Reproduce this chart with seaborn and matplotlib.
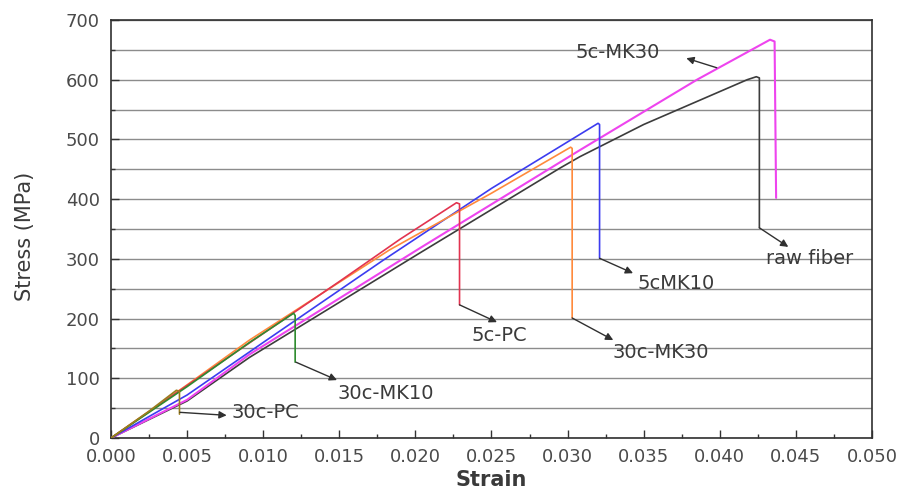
import pandas as pd
import seaborn as sns
import matplotlib.pyplot as plt
from matplotlib.ticker import MultipleLocator

# stress-strain curves (strain, MPa)
names = ['raw fiber', '5c-MK30', '5cMK10', '30c-MK30', '5c-PC', '30c-MK10', '30c-PC']

strain_raw = [0, 0.005, 0.0091, 0.0203, 0.0295, 0.0308, 0.035, 0.0418, 0.0424, 0.0426, 0.0426]
stress_raw = [0, 62, 135, 310, 452, 471, 525, 600, 605, 603, 352]

strain_5cmk30 = [0, 0.005, 0.0091, 0.0203, 0.0308, 0.0385, 0.0433, 0.0436, 0.0437]
stress_5cmk30 = [0, 64, 140, 318, 482, 600, 667, 664, 402]

strain_5cmk10 = [0, 0.005, 0.010, 0.0179, 0.025, 0.032, 0.0321, 0.0321]
stress_5cmk10 = [0, 72, 160, 298, 418, 527, 525, 301]

strain_30cmk30 = [0, 0.005, 0.0091, 0.0183, 0.025, 0.0302, 0.0303, 0.0303]
stress_30cmk30 = [0, 89, 164, 315, 410, 487, 485, 201]

strain_5cpc = [0, 0.005, 0.010, 0.015, 0.019, 0.0227, 0.0229, 0.0229]
stress_5cpc = [0, 88, 175, 262, 333, 394, 392, 223]

strain_30cmk10 = [0, 0.005, 0.0091, 0.012, 0.0121, 0.0121]
stress_30cmk10 = [0, 86, 160, 209, 205, 127]

strain_30cpc = [0, 0.0025, 0.0043, 0.0045, 0.0045]
stress_30cpc = [0, 45, 80, 78, 40]

colors = {'raw fiber': '#3c3c3c', '5c-MK30': '#ee44ee', '5cMK10': '#3c3cf0',
          '30c-MK30': '#ff8a3c', '5c-PC': '#e23450', '30c-MK10': '#2e8b2e',
          '30c-PC': '#9a7d1e'}

curves = [(strain_raw, stress_raw), (strain_5cmk30, stress_5cmk30),
          (strain_5cmk10, stress_5cmk10), (strain_30cmk30, stress_30cmk30),
          (strain_5cpc, stress_5cpc), (strain_30cmk10, stress_30cmk10),
          (strain_30cpc, stress_30cpc)]

rows = []
for name, (xs, ys) in zip(names, curves):
    for x, y in zip(xs, ys):
        rows.append({'sample': name, 'Strain': x, 'Stress': y})
df = pd.DataFrame(rows)

# label text position, arrow tail (end of the drop) and arrow head
labels = {
    '30c-PC':   ((0.0079, 42), (0.00453, 43), (0.0076, 38), 'left'),
    '30c-MK10': ((0.0149, 75), (0.01215, 127), (0.01485, 97), 'left'),
    '5c-PC':    ((0.0255, 171), (0.0229, 223), (0.02536, 194), 'center'),
    '30c-MK30': ((0.0361, 144), (0.0303, 201), (0.0330, 164), 'center'),
    '5cMK10':   ((0.0371, 258), (0.0321, 301), (0.0343, 276), 'center'),
    'raw fiber': ((0.0459, 301), (0.0426, 352), (0.0445, 320), 'center'),
    '5c-MK30':  ((0.0333, 645), (0.0398, 620), (0.0378, 636), 'center'),
}

sns.set_style('ticks')
plt.rcParams['font.family'] = ['DejaVu Sans']

fig = plt.figure(figsize=(9.09, 4.96), dpi=100)
ax = fig.add_axes([0.1221, 0.1169, 0.8372, 0.8428])

lws = {n: 1.2 for n in names}
lws['5c-MK30'] = 1.5
for name in names:
    sub = df[df['sample'] == name]
    sns.lineplot(data=sub, x='Strain', y='Stress', color=colors[name],
                 sort=False, estimator=None, lw=lws[name], ax=ax, zorder=3)

for text, (tpos, tail, head, ha) in labels.items():
    ax.annotate('', xy=head, xytext=tail,
                arrowprops=dict(arrowstyle='-|>', color='#303030', lw=1.0,
                                mutation_scale=11, shrinkA=0, shrinkB=0),
                zorder=4)
    ax.text(tpos[0], tpos[1], text, ha=ha, va='center', fontsize=14,
            color='#3a3a3a', zorder=5)

ax.set_xlim(0, 0.05)
ax.set_ylim(0, 700)
ax.xaxis.set_major_locator(MultipleLocator(0.005))
ax.xaxis.set_minor_locator(MultipleLocator(0.0025))
ax.yaxis.set_major_locator(MultipleLocator(100))
ax.yaxis.set_minor_locator(MultipleLocator(50))
ax.xaxis.set_major_formatter(plt.FormatStrFormatter('%.3f'))

ax.yaxis.grid(True, which='both', color='#8c8c8c', lw=1.0)
ax.set_axisbelow(True)

ax.tick_params(which='both', direction='in', top=False, right=False,
               colors='#333333', labelcolor='#4a4a4a', labelsize=13)
ax.tick_params(which='major', length=6, width=1)
ax.tick_params(which='minor', length=3, width=1)
ax.tick_params(axis='x', pad=7)
ax.tick_params(axis='y', pad=8)
for s in ax.spines.values():
    s.set_color('#303030')
    s.set_linewidth(1.2)

ax.set_xlabel('Strain', fontsize=15, color='#3a3a3a', fontweight='bold')
ax.set_ylabel('Stress (MPa)', fontsize=15, color='#3a3a3a')
ax.xaxis.set_label_coords(0.5, -0.077)
ax.yaxis.set_label_coords(-0.1, 0.483)

plt.savefig('out.png', dpi=100)
